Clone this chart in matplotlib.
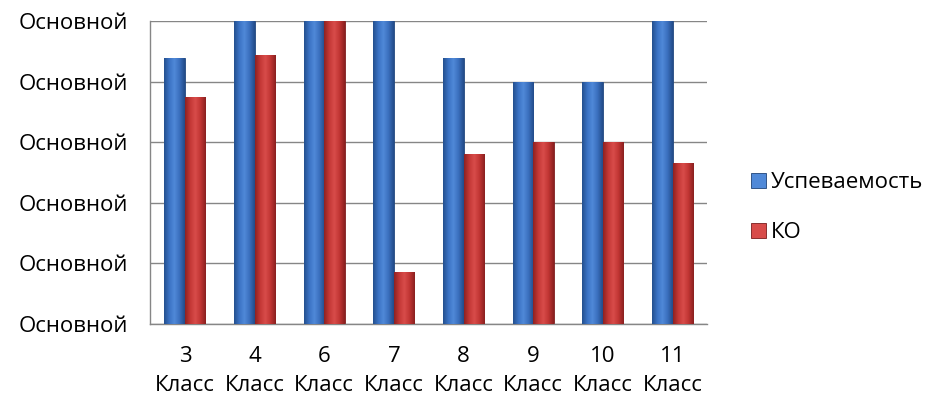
import numpy as np
import matplotlib
matplotlib.use('Agg')
import matplotlib.pyplot as plt
from matplotlib.colors import LinearSegmentedColormap

categories = ['3\nКласс', '4\nКласс', '6\nКласс', '7\nКласс',
              '8\nКласс', '9\nКласс', '10\nКласс', '11\nКласс']
uspev = [88, 100, 100, 100, 88, 80, 80, 100]
ko = [75, 89, 100, 17, 56, 60, 60, 53]
y_ticks = [0, 20, 40, 60, 80, 100]
y_labels = ['Основной'] * 6
series_names = ['Успеваемость', 'КО']

plt.rcParams['font.family'] = ['Open Sans', 'DejaVu Sans']
fs = 16

fig = plt.figure(figsize=(9.32, 4.03), dpi=100)
ax = fig.add_axes([0.161, 0.197, 0.598, 0.75])

x = np.arange(len(categories))
w = 0.295

blue_cmap = LinearSegmentedColormap.from_list('b', ['#24508f', '#3a72c4', '#5089d8', '#3a6fbd', '#234c8a'])
red_cmap = LinearSegmentedColormap.from_list('r', ['#8f2222', '#c43836', '#d84c4a', '#c03533', '#8a2020'])
grad = np.linspace(0, 1, 64).reshape(1, -1)


def draw_bars(xs, vals, cmap, edge, label):
    bars = ax.bar(xs, vals, w, color=cmap(0.5), edgecolor=edge, linewidth=0.6, label=label, zorder=2)
    for b in bars:
        x0, y0 = b.get_x(), b.get_y()
        im = ax.imshow(grad, cmap=cmap, aspect='auto', zorder=3,
                       extent=[x0, x0 + b.get_width(), y0, y0 + b.get_height()])
        im.set_clip_path(b)
    return bars


draw_bars(x - w / 2, uspev, blue_cmap, '#1f4479', series_names[0])
draw_bars(x + w / 2, ko, red_cmap, '#7a1c1c', series_names[1])

ax.set_xlim(-0.5, len(categories) - 0.5)
ax.set_ylim(0, 100)
ax.set_yticks(y_ticks)
ax.set_yticklabels(y_labels, fontsize=fs)
ax.set_xticks(x)
ax.set_xticklabels(categories, fontsize=fs, linespacing=1.5)
ax.tick_params(axis='x', length=0, pad=16)
ax.tick_params(axis='y', length=0, pad=16)
ax.grid(axis='y', color='#868686', linewidth=1, zorder=0)
ax.set_axisbelow(True)
for s in ['top', 'right']:
    ax.spines[s].set_visible(False)
for s in ['left', 'bottom']:
    ax.spines[s].set_color('#868686')
    ax.spines[s].set_linewidth(1)

fig.legend(loc='center left', bbox_to_anchor=(0.806, 0.485), frameon=False,
           fontsize=fs, handlelength=0.65, handleheight=0.65,
           handletextpad=0.25, labelspacing=1.3, borderaxespad=0, borderpad=0)

fig.savefig('out.png', dpi=100)
